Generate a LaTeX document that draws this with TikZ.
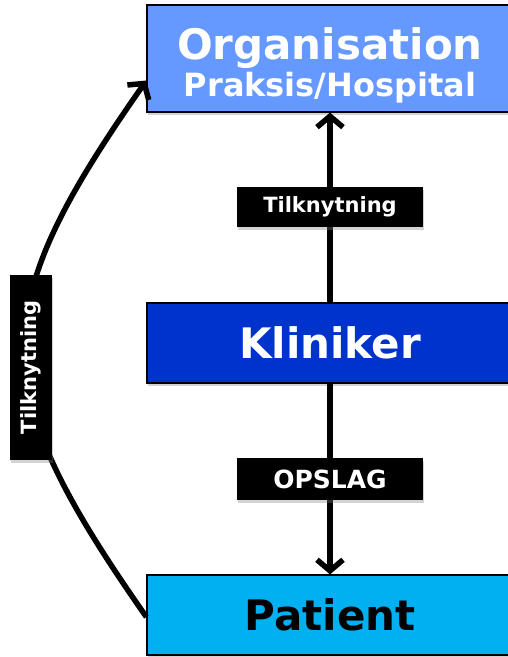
\documentclass[tikz,border=0pt]{standalone}
\usepackage{fontspec}
\setmainfont{DejaVu Sans}
\usetikzlibrary{arrows.meta,shadows}
\definecolor{orgblue}{RGB}{102,153,255}
\definecolor{kliblue}{RGB}{0,51,204}
\definecolor{patblue}{RGB}{0,176,240}
\begin{document}
\begin{tikzpicture}[x = 1pt, y = 1pt,
	box/.style = {draw, line width = 1.2, minimum width = 366, inner sep = 0, align = center, font = \bfseries, drop shadow = {opacity = .35, shadow xshift = 1pt, shadow yshift = -3pt}},
	tag/.style = {fill = black, text = white, inner sep = 0, font = \bfseries\fontsize{21}{24}\selectfont, drop shadow = {opacity = .35, shadow xshift = 1pt, shadow yshift = -3pt}},
	link/.style = {line width = 5.5, -{Straight Barb[length = 11pt, width = 26pt]}}]
\useasboundingbox (0, 0) rectangle (508, 657);
% the three levels
\node [box, fill = orgblue, minimum height = 107] (org) at (330, 598.5) {};
\node [text = white, align = center, font = \bfseries] (orgtext) at ([yshift = -7]org.center)
	{{\fontsize{42}{46}\selectfont Organisation}\\[3pt]{\fontsize{32}{34}\selectfont Praksis/Hospital}};
\node [box, fill = kliblue, text = white, minimum height = 80, font = \bfseries\fontsize{42}{46}\selectfont] (kli) at (330, 314) {Kliniker};
\node [box, fill = patblue, minimum height = 80, font = \bfseries\fontsize{42}{46}\selectfont] (pat) at (330, 42) {Patient};
% connections
\draw [link] (kli.north) -- (org.south);
\draw [link] (kli.south) -- (pat.north);
\draw [link] ([yshift = -2]pat.west) to [out = 125, in = -125, looseness = 1.35] ([yshift = -22]org.west);
% labels
\node [tag, minimum width = 186, minimum height = 40] (t1) at (330, 450) {Tilknytning};
\node [tag, minimum width = 186, minimum height = 42, font = \bfseries\fontsize{25}{28}\selectfont] (t2) at (330, 178) {OPSLAG};
\node [tag, minimum width = 185, minimum height = 42, rotate = 90] (t3) at (31, 289.5) {Tilknytning};
\end{tikzpicture}
\end{document}
